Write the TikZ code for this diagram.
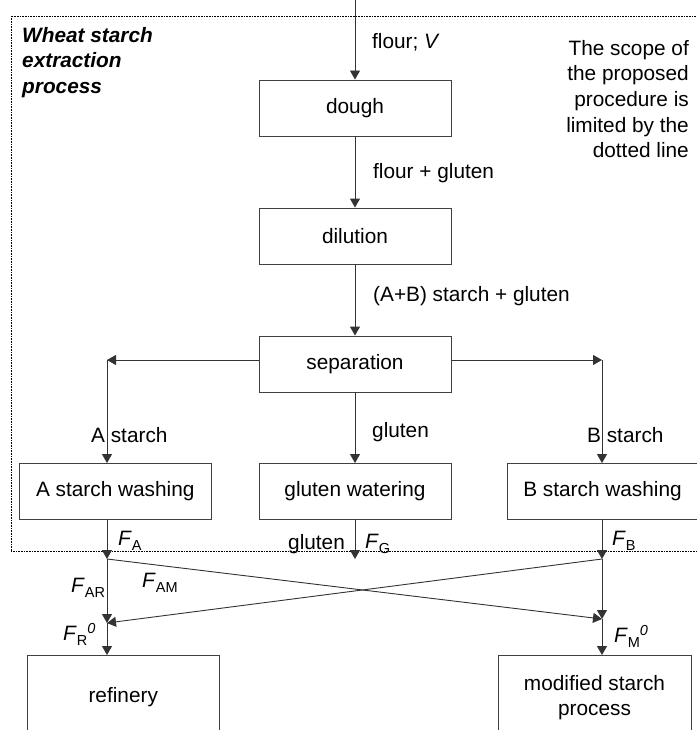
\documentclass[tikz,border=0pt]{standalone}
\usepackage{fontspec}
\setmainfont{Liberation Sans}
\usetikzlibrary{arrows.meta}
\newcommand\fs{\fontsize{20.8}{25.6}\selectfont}
\newcommand\sbs[1]{\raisebox{-5pt}{\fontsize{14.5}{15}\selectfont #1}}
\newcommand\sps[1]{\raisebox{7pt}{\fontsize{14.5}{15}\selectfont\itshape #1}}
\newcommand\flw[3]{\textit{#1}\sbs{#2}#3}
\begin{document}
\begin{tikzpicture}[x=1pt,y=-1pt,
  box/.style={draw=black!75, line width=0.9pt, minimum width=192pt, minimum height=56pt, inner sep=0pt, font=\fs},
  openbox/.style={box, minimum height=84pt, anchor=north, align=center},
  lbl/.style={inner sep=0pt, font=\fs, anchor=west},
  flow/.style={draw=black!80, line width=0.9pt, -{Triangle[width=10pt,length=9pt]}},
  scope/.style={densely dotted, line width=0.6pt, black}]
\useasboundingbox (0,0) rectangle (696,730);

% scope boundary
\draw[scope] (11,551) -- (11,16) -- (698,16) -- (698,551) -- cycle;

% boxes
\node[box] (dough) at (355,108) {dough};
\node[box] (dilution) at (355,236) {dilution};
\node[box] (sep) at (355,364) {separation};
\node[box, minimum width=191.5pt] (Aw) at (115.25,491.5) {A starch washing};
\node[box] (Gw) at (355,491.5) {gluten watering};
\node[box, minimum width=191pt] (Bw) at (602.5,491.5) {B starch washing};
\node[openbox, minimum width=191.5pt] (ref) at (123.25,655) {refinery};
\node[openbox, minimum width=193pt] (mod) at (594.5,655) {modified starch\\process};

% texts
\node[lbl, anchor=north west, align=left, font=\fs\bfseries\itshape] (title) at (22,27) {Wheat starch\\extraction\\process};
\node[lbl, anchor=north east, align=right] (note) at (689,40) {The scope of\\the proposed\\procedure is\\limited by the\\dotted line};

% coordinates
\coordinate (top) at (355,0);
\coordinate (cA) at (107,360);
\coordinate (cB) at (602,360);
\coordinate (a1) at (107,559);
\coordinate (a2) at (107,623);
\coordinate (g1) at (355,559);
\coordinate (b1) at (602,559);
\coordinate (b2) at (602,619);

% main line
\draw[flow] (top) -- (dough.north);
\draw[flow] (dough) -- (dilution);
\draw[flow] (dilution) -- (sep);
\draw[flow] (cA -| sep.west) -- (cA);
\draw[flow] (cA) -- (cA |- Aw.north);
\draw[flow] (cB -| sep.east) -- (cB);
\draw[flow] (cB) -- (cB |- Bw.north);
\draw[flow] (sep) -- (Gw);

% outputs
\draw[flow] (Aw.south -| a1) -- (a1);
\draw[flow] (Gw.south -| g1) -- (g1);
\draw[flow] (Bw.south -| b1) -- (b1);
\draw[flow] (a1) -- (a2);
\draw[flow] (b1) -- (b2);
\draw[flow] (a1) -- (b2);
\draw[flow] (b1) -- (a2);
\draw[flow] (a2) -- (a2 |- ref.north);
\draw[flow] (b2) -- (b2 |- mod.north);

% labels
\node[lbl] (l1) at (372,42) {flour; \textit{V}};
\node[lbl] (l2) at (373,173) {flour + gluten};
\node[lbl] (l3) at (373,296) {(A+B) starch + gluten};
\node[lbl] (l4) at (91,435) {A starch};
\node[lbl] (l5) at (372,432) {gluten};
\node[lbl] (l6) at (587,435) {B starch};
\node[lbl] (fa) at (118,541) {\flw{F}{A}{}};
\node[lbl] (l7) at (288,544) {gluten};
\node[lbl] (fg) at (365,544) {\flw{F}{G}{}};
\node[lbl] (fb) at (612,541) {\flw{F}{B}{}};
\node[lbl] (far) at (71,588) {\flw{F}{AR}{}};
\node[lbl] (fam) at (142,583) {\flw{F}{AM}{}};
\node[lbl] (fr) at (63,634) {\flw{F}{R}{\sps{0}}};
\node[lbl] (fm) at (614,636) {\flw{F}{M}{\sps{0}}};
\end{tikzpicture}
\end{document}
